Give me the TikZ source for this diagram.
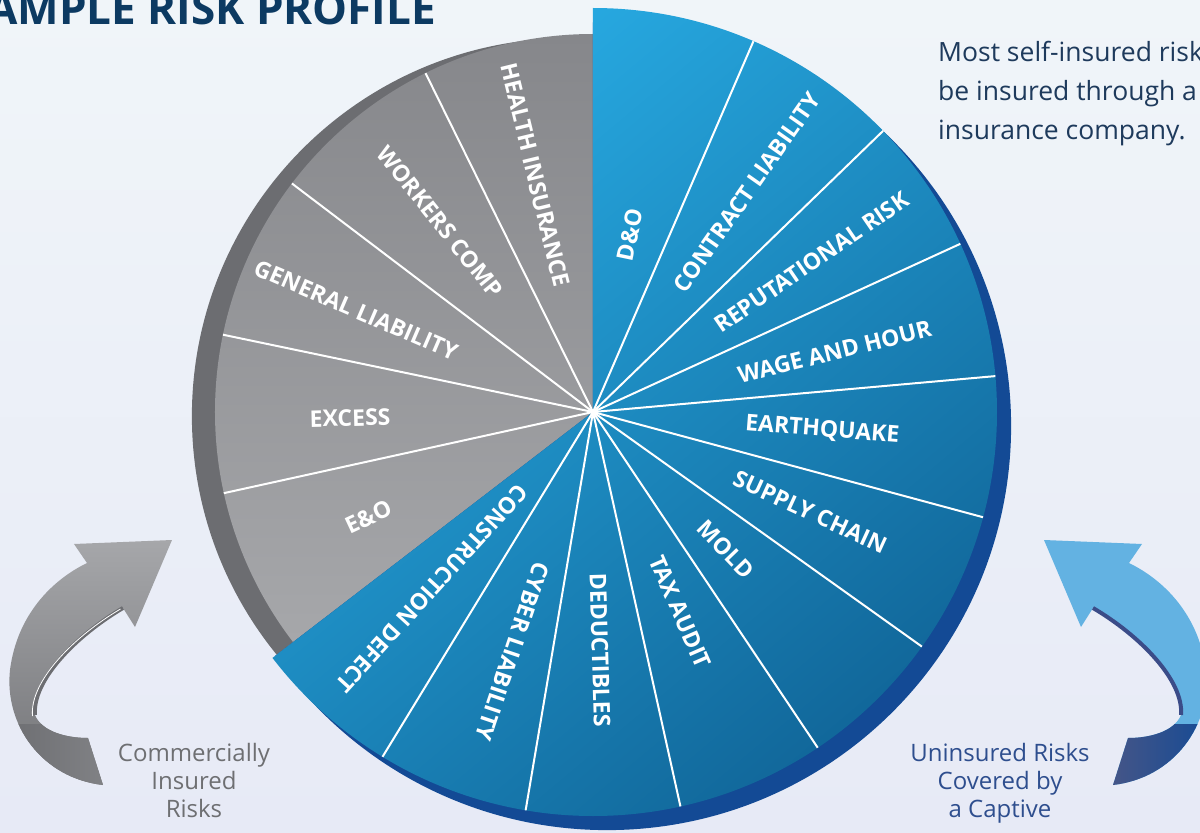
\documentclass[tikz,border=0pt]{standalone}
\usepackage{fontspec}
\setmainfont{Open Sans}
\usepackage{xcolor}
\usepackage{tikz}
\usetikzlibrary{positioning, calc}

\definecolor{bgtop}{HTML}{F0F5F9}
\definecolor{bgbot}{HTML}{E7EAF6}
\definecolor{titlenavy}{HTML}{0C3A62}
\definecolor{notenavy}{HTML}{1E3A5C}
\definecolor{greytop}{HTML}{86878B}
\definecolor{greybot}{HTML}{A6A7AA}
\definecolor{greyrim}{HTML}{6C6D71}
\definecolor{bluetop}{HTML}{28ACE4}
\definecolor{bluebot}{HTML}{11679A}
\definecolor{bluerim}{HTML}{134A95}
\definecolor{capgrey}{HTML}{6E6F72}
\definecolor{capblue}{HTML}{2E4E8E}
\definecolor{arrowsky}{HTML}{63B2E2}
\definecolor{arrowink}{HTML}{3B4C88}

% ribbon arrow outline, tip at the origin
\newcommand{\ribbonoutline}{
  (0,0) -- (-37,-87) -- (-49,-68)
  .. controls (-95,-95) and (-140,-140) .. (-137,-175)
  .. controls (-130,-192) and (-105,-198) .. (-84,-198)
  -- (-69,-245)
  .. controls (-130,-238) and (-168,-185) .. (-162,-130)
  .. controls (-155,-75) and (-120,-40) .. (-85,-23)
  -- (-98,-4) -- cycle
}
\newcommand{\ribbonedge}{
  (-49,-68) .. controls (-95,-95) and (-140,-140) .. (-137,-175)
}

\begin{document}
\begin{tikzpicture}[
  x=1pt, y=1pt,
  seclabel/.style={text=white, inner sep=0pt,
    font=\bfseries\fontsize{23}{26}\selectfont},
  secline/.style={white, line width=2pt},
  caption/.style={align=center, inner sep=0pt, font=\fontsize{24}{28}\selectfont},
]
  \useasboundingbox (-593,-421) rectangle (607,412);
  \clip (-593,-421) rectangle (607,412);
  \shade[top color=bgtop, bottom color=bgbot] (-593,-421) rectangle (607,412);
  \coordinate (ctr) at (0,0);

  % commercially insured part
  \begin{scope}
    \clip (ctr) -- (90:450) arc[start angle=90, end angle=217.5, radius=450] -- cycle;
    \fill[greyrim] (-23.1,-4.1) circle[radius=378];
  \end{scope}
  \shade[top color=greytop, bottom color=greybot]
    (ctr) -- (90:378) arc[start angle=90, end angle=217.5, radius=378] -- cycle;
  \foreach \a in {116.3,142.8,168.2,192.4}
    \draw[secline] (ctr) -- (\a:378);
  \foreach \nm/\ang/\rad/\txt in {health/103.7/244/HEALTH INSURANCE,
      workers/128.8/244/WORKERS COMP, general/156.7/258/GENERAL LIABILITY,
      excess/181.4/243/EXCESS, eando/205/248/E\&O}
    \node[seclabel, rotate=\ang-180] (\nm) at (\ang:\rad) {\txt};

  % captive part
  \begin{scope}
    \clip (ctr) -- (90:460) arc[start angle=90, end angle=-142.5, radius=460] -- cycle;
    \fill[bluerim] (14.1,-14.1) circle[radius=404];
  \end{scope}
  \shade[top color=bluetop, bottom color=bluebot, shading angle=40]
    (ctr) -- (90:404) arc[start angle=90, end angle=-142.5, radius=404] -- cycle;
  \foreach \a in {66.6,44.1,24.6,5.1,-15.1,-35.5,-56.2,-77.5,-99.6,-121.4}
    \draw[secline] (ctr) -- (\a:404);
  \foreach \nm/\ang/\rad/\txt in {dando/78.2/181/D\&O,
      contract/55/268/CONTRACT LIABILITY, reput/34.4/265/REPUTATIONAL RISK,
      wage/14/249/WAGE AND HOUR, quake/-4.5/230/EARTHQUAKE,
      supply/-24.7/239/SUPPLY CHAIN, mold/-46/191/MOLD,
      tax/-66.5/218/TAX AUDIT, deduct/-88.3/238/DEDUCTIBLES,
      cyber/-108.6/253/CYBER LIABILITY, constr/-132.4/239/CONSTRUCTION DEFECT}
    \node[seclabel, rotate=\ang] (\nm) at (\ang:\rad) {\txt};
  \fill[white] (ctr) circle[radius=3];

  % left arrow
  \begin{scope}[shift={(-421,-128)}]
    \begin{scope}
      \clip \ribbonoutline;
      \shade[top color=greybot, bottom color=greytop!85!black] (-170,0) rectangle (0,-250);
      \shade[left color=greyrim, right color=greyrim!85!white] (-170,-184) rectangle (-60,-250);
    \end{scope}
    \draw[greyrim, line width=4pt] \ribbonedge;
    \draw[white, line width=0.8pt, shift={(-2.5,-1)}] \ribbonedge;
  \end{scope}

  % right arrow
  \begin{scope}[shift={(451,-128)}, xscale=-1]
    \begin{scope}
      \clip \ribbonoutline;
      \fill[arrowsky] (-170,0) rectangle (0,-250);
      \shade[left color=arrowink!80!gray, right color=bluerim] (-170,-184) rectangle (-60,-250);
    \end{scope}
    \draw[arrowink, line width=4pt] \ribbonedge;
  \end{scope}

  \node[caption, text=capgrey, anchor=north] (commercial) at (-399,-331)
    {Commercially\\Insured\\Risks};
  \node[caption, text=capblue, anchor=north] (uninsured) at (407,-331)
    {Uninsured Risks\\Covered by\\a Captive};

  \node[anchor=base west, inner sep=0pt, text=titlenavy,
    font=\bfseries\fontsize{44}{44}\selectfont] (title) at (-606,387)
    {AMPLE RISK PROFILE};
  \node[anchor=north west, align=left, inner sep=0pt, text=notenavy,
    font=\fontsize{26.5}{39}\selectfont] (note) at (345,371)
    {Most self-insured risk\\be insured through a\\insurance company.};
\end{tikzpicture}
\end{document}
